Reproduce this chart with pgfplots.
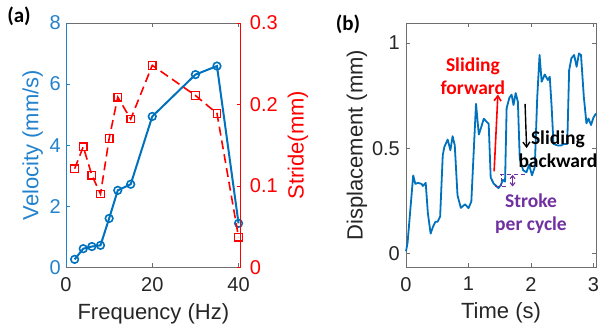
\documentclass[border=0pt]{standalone}
\usepackage{fontspec}
\setmainfont{Liberation Sans}
\newfontfamily\annot{Carlito}
\usepackage{pgfplots}
\pgfplotsset{compat=1.18}
\usetikzlibrary{arrows.meta}
\definecolor{mblue}{RGB}{0,114,189}
\definecolor{mbluet}{RGB}{35,130,205}
\definecolor{mpurple}{RGB}{112,48,160}
\definecolor{axgray}{RGB}{110,110,110}
\definecolor{txgray}{RGB}{38,38,38}

\pgfplotstableread{
f v
2 0.26
4 0.61
6 0.68
8 0.72
10 1.60
12 2.52
15 2.72
20 4.94
30 6.31
35 6.59
40 1.44
}\velocity

\pgfplotstableread{
f s
2 0.121
4 0.148
6 0.113
8 0.090
10 0.158
12 0.209
15 0.182
20 0.248
30 0.211
35 0.189
40 0.037
}\stride

\pgfplotstableread{
t d
0.000 0.010
0.025 0.050
0.115 0.370
0.150 0.330
0.190 0.335
0.250 0.330
0.270 0.320
0.315 0.335
0.350 0.190
0.394 0.094
0.430 0.125
0.470 0.150
0.505 0.150
0.546 0.175
0.588 0.467
0.614 0.506
0.667 0.541
0.710 0.490
0.745 0.557
0.780 0.514
0.824 0.276
0.877 0.216
0.945 0.233
1.000 0.215
1.045 0.246
1.120 0.711
1.165 0.565
1.207 0.603
1.244 0.640
1.286 0.627
1.323 0.615
1.355 0.360
1.400 0.333
1.454 0.317
1.480 0.310
1.517 0.325
1.549 0.349
1.585 0.341
1.610 0.690
1.654 0.740
1.690 0.754
1.720 0.705
1.755 0.762
1.790 0.720
1.820 0.450
1.874 0.395
1.927 0.385
1.969 0.421
2.016 0.371
2.060 0.410
2.100 0.744
2.137 0.943
2.170 0.816
2.220 0.850
2.270 0.824
2.300 0.840
2.330 0.697
2.360 0.520
2.425 0.513
2.480 0.513
2.530 0.520
2.580 0.520
2.610 0.870
2.646 0.927
2.690 0.943
2.730 0.887
2.767 0.950
2.800 0.943
2.845 0.744
2.887 0.618
2.920 0.641
2.960 0.610
3.000 0.646
3.040 0.665
}\disp

\begin{document}
\begin{tikzpicture}[x=1pt,y=1pt]
\pgfplotsset{every axis/.append style={
  scale only axis,
  font=\fontsize{20}{24}\selectfont,
  /pgf/number format/assume math mode=true,
  tick align=inside,
  major tick length=4pt,
  every tick label/.append style={inner sep=0pt},
  xticklabel style={yshift=-10pt},
  label style={font=\fontsize{22}{26}\selectfont},
}}

% ---------- panel (a): velocity (left axis)
\begin{axis}[
  at={(66pt,62.7pt)}, anchor=south west,
  width=174.7pt, height=244.3pt,
  xmin=0, xmax=40.5, ymin=0, ymax=8,
  xtick={0,20,40}, ytick={0,2,4,6,8},
  axis y line*=left, axis x line*=box,
  x axis line style={draw=axgray, line width=0.6pt},
  y axis line style={draw=mbluet, line width=0.6pt},
  xtick style={draw=axgray}, ytick style={draw=mbluet},
  yticklabel style={text=mbluet, xshift=-5pt},
  xticklabel style={text=txgray},
  xlabel={Frequency (Hz)},
  ylabel={Velocity (mm/s)},
  xlabel style={at={(axis description cs:0.5,-0.19)}, anchor=center, text=txgray},
  ylabel style={at={(axis description cs:-0.19,0.5)}, anchor=center, text=mbluet},
]
\addplot[mblue, line width=2pt, mark=o, mark size=3.8pt,
  mark options={solid, fill=white, line width=1.6pt}] table[x=f, y=v] {\velocity};
\end{axis}

% ---------- panel (a): stride (right axis)
\begin{axis}[
  at={(66pt,62.7pt)}, anchor=south west,
  width=174.7pt, height=244.3pt,
  xmin=0, xmax=40.5, ymin=0, ymax=0.3,
  ytick={0,0.1,0.2,0.3},
  axis y line*=right, axis x line=none,
  y axis line style={draw=red, line width=0.6pt},
  ytick style={draw=red},
  yticklabel style={text=red, xshift=9pt, /pgf/number format/fixed, /pgf/number format/precision=1},
  ylabel={Stride(mm)},
  ylabel style={at={(axis description cs:1.328,0.5)}, anchor=center, text=red, rotate=0},
]
\addplot[red, line width=1.6pt, dash pattern=on 9pt off 5pt, mark=square, mark size=3.8pt,
  mark options={solid, fill=white, line width=1.2pt}] table[x=f, y=s] {\stride};
\end{axis}

% ---------- panel (b)
\begin{axis}[
  at={(406pt,63pt)}, anchor=south west,
  width=190pt, height=244pt,
  xmin=0, xmax=3.04, ymin=-0.065, ymax=1.095,
  xtick={0,1,2,3}, ytick={0,0.5,1},
  axis line style={draw=axgray, line width=0.6pt},
  tick style={draw=axgray},
  ticklabel style={text=txgray},
  yticklabel style={xshift=-6pt},
  xlabel={Time (s)},
  ylabel={Displacement (mm)},
  xlabel style={at={(axis description cs:0.5,-0.186)}, anchor=center, text=txgray},
  ylabel style={at={(axis description cs:-0.258,0.5)}, anchor=center, text=txgray},
  clip=false,
]
\addplot[mblue, line width=1.8pt, line join=round] table[x=t, y=d] {\disp};
% annotations
\draw[red, line width=1.6pt, -{Straight Barb[length=5pt, width=7pt]}] (axis cs:1.41,0.39) -- (axis cs:1.47,0.755);
\draw[black, line width=1.4pt, -{Straight Barb[length=5pt, width=7pt]}] (axis cs:1.905,0.71) -- (axis cs:1.93,0.50);
\node[text=red, font=\annot\bfseries\fontsize{19.5}{23}\selectfont, align=center] at (axis cs:1.07,0.84) {Sliding\\forward};
\node[text=black, font=\annot\bfseries\fontsize{19.5}{23}\selectfont, align=center] at (axis cs:2.43,0.497) {Sliding\\backward};
\node[text=mpurple, font=\annot\bfseries\fontsize{19.5}{23}\selectfont, align=center] at (axis cs:2.0,0.19) {Stroke\\per cycle};
\draw[mpurple, line width=1.1pt, dash pattern=on 4pt off 3pt] (axis cs:1.43,0.316) -- (axis cs:1.63,0.316);
\draw[mpurple, line width=1.1pt, dash pattern=on 4pt off 3pt] (axis cs:1.50,0.375) -- (axis cs:1.90,0.375);
\draw[mpurple, line width=1.1pt, dash pattern=on 3pt off 2pt] (axis cs:1.53,0.318) -- (axis cs:1.53,0.373);
\draw[mpurple, line width=1.1pt, {Straight Barb[length=3pt, width=5pt]}-{Straight Barb[length=3pt, width=5pt]}] (axis cs:1.705,0.318) -- (axis cs:1.705,0.373);
\end{axis}

\node[font=\annot\bfseries\fontsize{21}{25}\selectfont] at (19,313.5) {(a)};
\node[font=\annot\bfseries\fontsize{21}{25}\selectfont] at (348,306) {(b)};

\pgfresetboundingbox
\useasboundingbox (0,0) rectangle (601,330);
\end{tikzpicture}
\end{document}
